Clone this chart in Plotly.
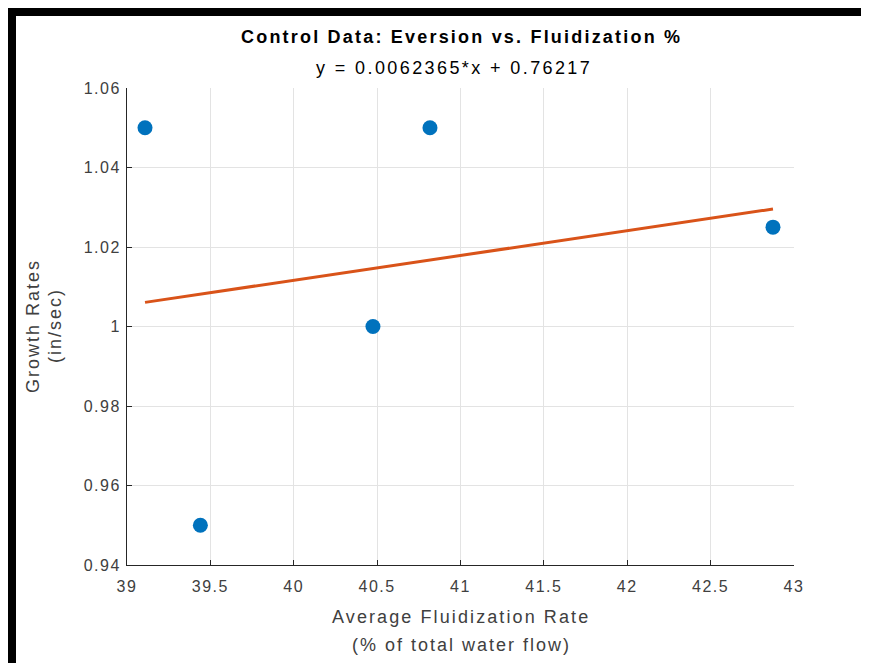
import plotly.graph_objects as go

# ---- data ----
fluidization_pct = [39.108, 39.44, 40.475, 40.817, 42.874]
growth_rates = [1.05, 0.95, 1.00, 1.05, 1.025]
fit_slope = 0.0062365
fit_intercept = 0.76217
x_ticks = [39, 39.5, 40, 40.5, 41, 41.5, 42, 42.5, 43]
x_ticklabels = ["39", "39.5", "40", "40.5", "41", "41.5", "42", "42.5", "43"]
y_ticks = [0.94, 0.96, 0.98, 1.00, 1.02, 1.04, 1.06]
y_ticklabels = ["0.94", "0.96", "0.98", "1", "1.02", "1.04", "1.06"]

fit_x = [min(fluidization_pct), max(fluidization_pct)]
fit_y = [fit_slope * v + fit_intercept for v in fit_x]

W, H = 869, 663
OFF = 8  # page body margin
L, R, T, B = 127 - OFF, 794 - OFF, 88 - OFF, 565 - OFF
FONT = "Liberation Sans, Arial, Helvetica, sans-serif"
GREY = "#404040"


def px(x):
    return (x - OFF - L) / (R - L)


def py(y):
    return (B - (y - OFF)) / (B - T)


def sp(t, ls):
    return f'<span style="letter-spacing:{ls}px">{t}</span>'


fig = go.Figure()
fig.add_trace(go.Scatter(
    x=fluidization_pct, y=growth_rates, mode="markers",
    marker=dict(color="#0072BD", size=15, line=dict(width=0)),
    showlegend=False, hoverinfo="x+y"))
fig.add_trace(go.Scatter(
    x=fit_x, y=fit_y, mode="lines",
    line=dict(color="#D95319", width=3),
    showlegend=False))

axis_common = dict(
    showgrid=True, gridcolor="#E3E3E3", gridwidth=1,
    showline=True, linecolor="#262626", linewidth=1, mirror=False,
    ticks="inside", ticklen=5, tickcolor="#262626",
    tickfont=dict(family=FONT, size=16, color=GREY),
    zeroline=False,
)

fig.update_layout(
    width=W, height=H,
    margin=dict(l=L, r=W - R, t=T, b=H - B),
    paper_bgcolor="white", plot_bgcolor="white",
    xaxis=dict(range=[39, 43], tickvals=x_ticks,
               ticktext=[sp(t, 1.5) for t in x_ticklabels],
               ticklabelstandoff=7, **axis_common),
    yaxis=dict(range=[0.94, 1.06], tickvals=y_ticks,
               ticktext=[sp(t, 1.5) for t in y_ticklabels],
               ticklabelstandoff=2, **axis_common),
    font=dict(family=FONT),
)


def ann(text, x, y, size, color, bold=False, angle=0, ls=0):
    t = sp(text, ls) if ls else text
    if bold:
        t = f"<b>{t}</b>"
    fig.add_annotation(xref="paper", yref="paper", x=px(x), y=py(y),
                       text=t, showarrow=False, xanchor="center", yanchor="middle",
                       textangle=angle, font=dict(family=FONT, size=size, color=color))


ann("Control Data: Eversion vs. Fluidization %", 461, 37, 18, "black", bold=True, ls=2.2)
ann("y = 0.0062365*x + 0.76217", 454, 68, 18, "black", ls=2.4)
ann("Average Fluidization Rate", 461, 617, 18, GREY, ls=2.1)
ann("(% of total water flow)", 461, 645, 18, GREY, ls=2.0)
ann("Growth Rates", 33, 326, 18, GREY, angle=-90, ls=2.0)
ann("(in/sec)", 55, 326, 18, GREY, angle=-90, ls=2.0)

# black frame bands at top and left of the figure image
for (x0, y0, x1, y1) in [(8, 8, W + 10, 16), (8, 8, 16, H + 10)]:
    fig.add_shape(type="rect", xref="paper", yref="paper",
                  x0=px(x0), x1=px(x1), y0=py(y1), y1=py(y0),
                  fillcolor="black", line=dict(width=0), layer="above")

fig.write_html("out.html")
